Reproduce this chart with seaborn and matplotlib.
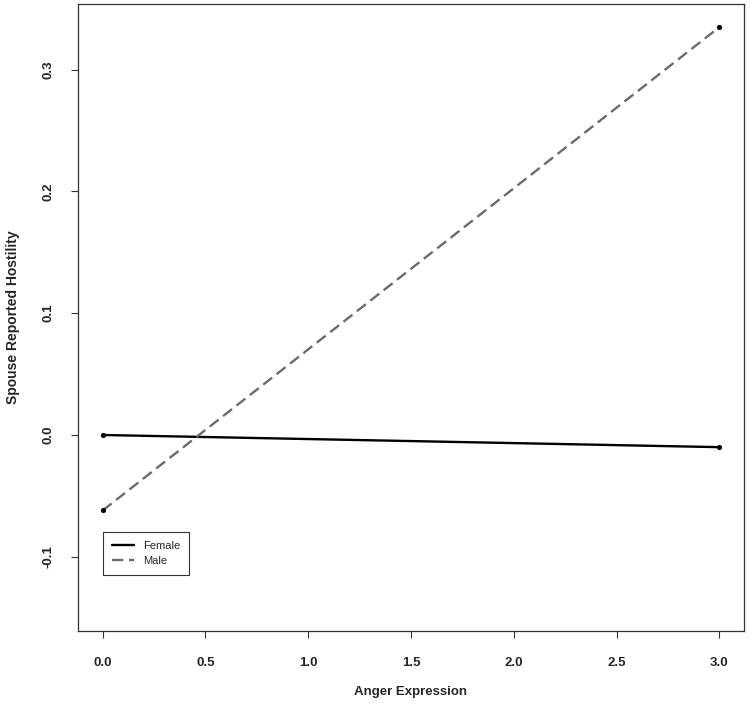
import seaborn as sns
import pandas as pd
import matplotlib.pyplot as plt
from matplotlib.lines import Line2D

# values
anger = [0.0, 3.0]
female = [0.0, -0.010]
male = [-0.062, 0.335]
groups = ["Female", "Male"]

df = pd.DataFrame({
    "Anger Expression": anger * 2,
    "Spouse Reported Hostility": female + male,
    "sex": [groups[0]] * len(anger) + [groups[1]] * len(anger),
})

sns.set_theme(style="ticks")
plt.rcParams["font.family"] = ["Liberation Sans", "DejaVu Sans"]

fig = plt.figure(figsize=(7.5, 7.04), dpi=100)
ax = fig.add_axes([0.104, 0.1037, 0.888, 0.8906])

sns.lineplot(data=df, x="Anger Expression", y="Spouse Reported Hostility",
             hue="sex", style="sex",
             palette={"Female": "black", "Male": "#6b6b6b"},
             dashes={"Female": "", "Male": (4.8, 2.4)},
             linewidth=1.7, ax=ax, legend=False)
sns.scatterplot(data=df, x="Anger Expression", y="Spouse Reported Hostility",
                color="black", s=14, linewidth=0, ax=ax, legend=False, zorder=5)

ax.set_xlim(-0.12, 3.12)
ax.set_ylim(-0.161, 0.354)
ax.set_xticks([0.0, 0.5, 1.0, 1.5, 2.0, 2.5, 3.0])
ax.set_xticklabels(["0.0", "0.5", "1.0", "1.5", "2.0", "2.5", "3.0"],
                   fontweight="bold", fontsize=9.5)
ax.set_yticks([-0.1, 0.0, 0.1, 0.2, 0.3])
ax.set_yticklabels(["-0.1", "0.0", "0.1", "0.2", "0.3"],
                   fontweight="bold", fontsize=9.5, rotation=90, va="center")
ax.tick_params(direction="out", length=5, width=0.8, color="#333333")
ax.tick_params(axis="x", pad=14)
ax.tick_params(axis="y", pad=12)
for sp in ax.spines.values():
    sp.set_color("#333333")
    sp.set_linewidth(0.9)

ax.set_xlabel("Anger Expression", fontweight="bold", fontsize=9.5, labelpad=12)
ax.set_ylabel("Spouse Reported Hostility", fontweight="bold", fontsize=10, labelpad=16)

handles = [Line2D([], [], color="black", lw=1.7),
           Line2D([], [], color="#6b6b6b", lw=1.7, dashes=(4.8, 2.4))]
leg = ax.legend(handles, groups, loc="upper left", bbox_to_anchor=(0.0, -0.08),
                bbox_transform=ax.transData, frameon=True, fancybox=False,
                fontsize=8, handlelength=2.0, handletextpad=0.8,
                borderpad=0.8, labelspacing=0.4,
                borderaxespad=0, edgecolor="#333333", framealpha=1)
leg.get_frame().set_linewidth(0.8)

fig.savefig("out.png", dpi=100)
